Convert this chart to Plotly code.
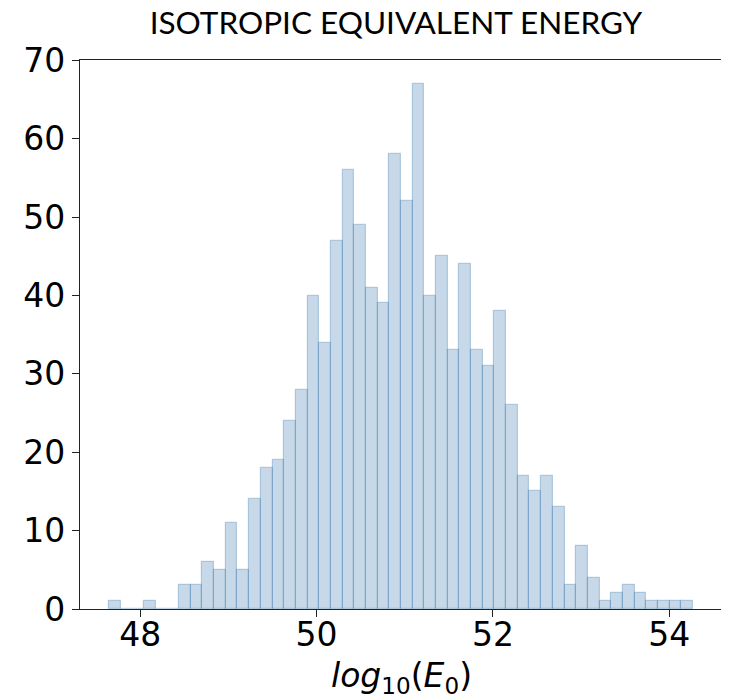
import numpy as np
import plotly.graph_objects as go

# Histogram counts (50 equal-width bins)
counts = [1, 0, 0, 1, 0, 0, 3, 3, 6, 5,
          11, 5, 14, 18, 19, 24, 28, 40, 34, 47,
          56, 49, 41, 39, 58, 52, 67, 40, 45, 33,
          44, 33, 31, 38, 26, 17, 15, 17, 13, 3,
          8, 4, 1, 2, 3, 2, 1, 1, 1, 1]
bin_start = 47.646
bin_end = 54.268
x_ticks = [48, 50, 52, 54]
y_ticks = [0, 10, 20, 30, 40, 50, 60, 70]

edges = np.linspace(bin_start, bin_end, len(counts) + 1)
centers = (edges[:-1] + edges[1:]) / 2
width = edges[1] - edges[0]

fig = go.Figure(go.Bar(
    x=centers, y=counts, width=width,
    marker=dict(color="rgba(70,130,180,0.3)",
                line=dict(color="rgba(70,130,180,0.35)", width=1.2)),
))

axis_common = dict(showline=True, linecolor="#222", linewidth=1.1, mirror=True,
                   ticks="outside", ticklen=7, tickwidth=1.1, tickcolor="#222",
                   showgrid=False, zeroline=False, automargin=False,
                   tickfont=dict(family="DejaVu Sans", size=33, color="black"))

# page body has an 8px default margin, so the figure is sized to fit the window
fig.update_layout(
    width=721, height=689,
    margin=dict(l=72, r=7, t=52, b=88),
    paper_bgcolor="white", plot_bgcolor="white",
    bargap=0, showlegend=False,
    title=dict(text="ISOTROPIC EQUIVALENT ENERGY", x=0.538, xanchor="center",
               y=0.979, yanchor="middle",
               font=dict(family="Lato", size=31.5, color="black")),
    xaxis=dict(range=[47.317, 54.597], tickvals=x_ticks, ticklabelstandoff=-11,
               **axis_common),
    yaxis=dict(range=[0, 70.05], tickvals=y_ticks, ticklabelstandoff=0,
               **axis_common),
    annotations=[dict(
        text="<i>log</i><sub>10</sub>(<i>E</i><sub>0</sub>)",
        xref="paper", yref="paper", x=0.5, y=-0.125,
        xanchor="center", yanchor="middle", showarrow=False,
        font=dict(family="DejaVu Sans", size=33, color="black"))],
)

fig.write_html("out.html")
